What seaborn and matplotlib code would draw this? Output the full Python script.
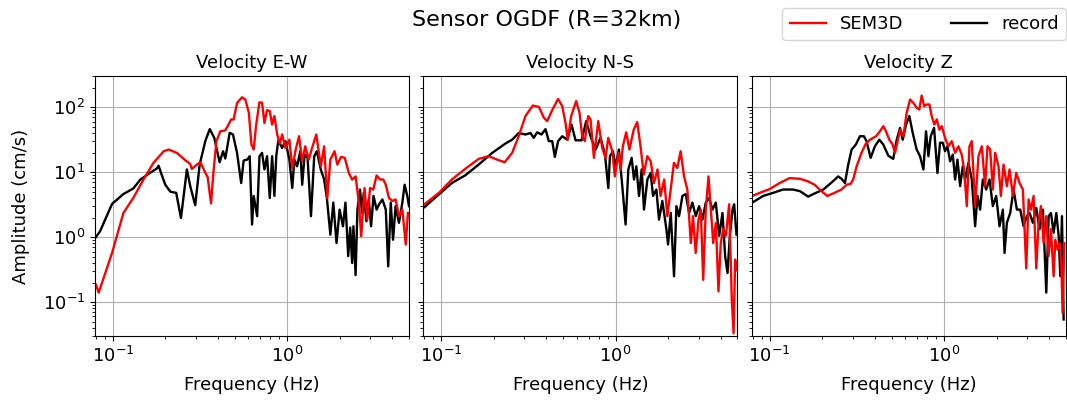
import pandas as pd
import matplotlib
matplotlib.use("Agg")
import matplotlib.pyplot as plt
import seaborn as sns

# -------------------------
# DATA (frequency in Hz, amplitude in cm/s)
# -------------------------
ew_sem_f = [0.080, 0.083, 0.099, 0.115, 0.131, 0.150, 0.171, 0.196, 0.209, 0.233,
            0.261, 0.278, 0.284, 0.304, 0.318, 0.340, 0.350, 0.366, 0.379, 0.393,
            0.414, 0.442, 0.456, 0.477, 0.493, 0.516, 0.551, 0.576, 0.603, 0.624,
            0.643, 0.663, 0.693, 0.718, 0.741, 0.767, 0.795, 0.820, 0.845, 0.877,
            0.908, 0.936, 0.978, 1.03, 1.07, 1.12, 1.17, 1.22, 1.27, 1.33,
            1.39, 1.47, 1.56, 1.63, 1.70, 1.77, 1.87, 1.94, 2.04, 2.14,
            2.26, 2.36, 2.47, 2.58, 2.66, 2.78, 2.88, 2.99, 3.12, 3.26,
            3.41, 3.56, 3.68, 3.84, 4.01, 4.19, 4.38, 4.58, 4.79, 4.93]
ew_sem_a = [0.185, 0.14, 0.57, 2.35, 4.0, 7.7, 13.9, 21, 22.3, 19.8,
            15.2, 13.4, 11.2, 13.1, 14.2, 9.7, 8.4, 3.3, 11, 30,
            42.6, 44, 51, 64.6, 64.6, 116, 142, 131, 82, 26.6,
            22.3, 51, 119, 117, 57, 90, 87, 54, 73, 38,
            27.5, 38, 23.6, 31.6, 11.6, 22.3, 35.7, 14.7, 25, 15.6,
            23.6, 38, 12.3, 25, 4.0, 15.6, 21, 13.1, 17.2, 16.6,
            9.7, 7.7, 8.6, 3.4, 1.03, 5.7, 1.86, 5.7, 5.4, 8.9,
            7.7, 7.7, 6.4, 4.0, 3.6, 3.8, 2.1, 2.65, 0.77, 2.35]

ew_rec_f = [0.080, 0.0845, 0.099, 0.115, 0.131, 0.144, 0.160, 0.179, 0.183, 0.191,
            0.200, 0.214, 0.231, 0.246, 0.266, 0.278, 0.297, 0.315, 0.340, 0.360,
            0.382, 0.410, 0.429, 0.442, 0.468, 0.489, 0.516, 0.545, 0.563, 0.590,
            0.610, 0.629, 0.643, 0.673, 0.694, 0.718, 0.741, 0.767, 0.795, 0.820,
            0.845, 0.866, 0.890, 0.936, 0.978, 1.03, 1.07, 1.10, 1.14, 1.19,
            1.22, 1.26, 1.31, 1.37, 1.43, 1.48, 1.56, 1.63, 1.69, 1.77,
            1.84, 1.92, 2.00, 2.09, 2.16, 2.24, 2.30, 2.36, 2.40, 2.47,
            2.53, 2.62, 2.69, 2.75, 2.85, 2.94, 3.03, 3.13, 3.26, 3.37,
            3.52, 3.68, 3.80, 3.93, 4.05, 4.19, 4.38, 4.58, 4.72, 4.89,
            5.0]
ew_rec_a = [1.0, 1.23, 3.24, 4.6, 5.6, 7.7, 9.4, 11.4, 12.6, 9.0,
            6.4, 5.0, 4.8, 1.97, 11, 6.1, 3.1, 13.1, 30.6, 46,
            33.7, 14.2, 21, 16.2, 40.3, 38, 19.8, 6.8, 15.1, 15.6,
            17.6, 1.56, 4.3, 2.1, 17.6, 19.8, 11, 17.6, 4.0, 17.6,
            4.3, 17.6, 30.9, 23.6, 30, 15.6, 5.7, 15.6, 12.3, 21,
            6.4, 18.6, 16.6, 2.1, 17.6, 21, 11, 7.7, 4.0, 1.09,
            3.4, 0.81, 2.65, 1.47, 3.4, 0.51, 1.4, 0.40, 1.47, 0.26,
            2.65, 5.4, 2.35, 4.8, 1.75, 3.8, 1.47, 4.3, 2.65, 3.2,
            3.8, 2.65, 0.355, 3.4, 0.91, 3.0, 1.66, 3.4, 6.4, 4.3,
            3.0]

ns_sem_f = [0.080, 0.097, 0.115, 0.137, 0.164, 0.187, 0.209, 0.231, 0.255, 0.278,
            0.304, 0.335, 0.363, 0.388, 0.405, 0.436, 0.468, 0.494, 0.516, 0.532,
            0.556, 0.594, 0.621, 0.643, 0.666, 0.696, 0.718, 0.751, 0.795, 0.838,
            0.876, 0.907, 0.957, 0.99, 1.04, 1.07, 1.10, 1.15, 1.20, 1.27,
            1.33, 1.39, 1.45, 1.52, 1.59, 1.66, 1.74, 1.81, 1.90, 1.98,
            2.07, 2.16, 2.26, 2.36, 2.47, 2.58, 2.70, 2.78, 2.88, 2.99,
            3.08, 3.18, 3.29, 3.41, 3.52, 3.63, 3.76, 3.89, 4.01, 4.14,
            4.29, 4.48, 4.64, 4.75, 4.85, 4.94]
ns_sem_a = [3.2, 4.8, 7.7, 11.2, 16, 17.6, 15.6, 14.2, 19.8, 35.7,
            73, 106, 101, 68.5, 61, 94, 134, 104, 57, 31.6,
            73, 124, 82, 35.7, 30, 73, 65, 16.6, 61, 23.6,
            16.6, 33.7, 21, 8.6, 19.8, 11, 25, 41, 22.3, 45,
            59, 25, 9.2, 17.6, 14.7, 6.8, 11, 4.3, 7.7, 2.1,
            5.4, 13.9, 11.6, 21, 8.6, 5.4, 0.81, 2.1, 0.57, 1.86,
            2.65, 0.22, 2.65, 8.6, 2.65, 0.81, 1.66, 0.146, 0.81, 1.33,
            1.05, 3.2, 0.108, 0.033, 0.45, 0.31]

ns_rec_f = [0.0802, 0.0965, 0.115, 0.137, 0.164, 0.196, 0.233, 0.255, 0.278, 0.304,
            0.325, 0.339, 0.355, 0.376, 0.396, 0.414, 0.433, 0.448, 0.468, 0.494,
            0.528, 0.559, 0.589, 0.638, 0.678, 0.718, 0.768, 0.820, 0.869, 0.908,
            0.928, 0.965, 1.0, 1.045, 1.092, 1.141, 1.183, 1.236, 1.275, 1.315,
            1.362, 1.411, 1.455, 1.521, 1.589, 1.639, 1.713, 1.774, 1.854, 1.955,
            1.999, 2.071, 2.164, 2.232, 2.312, 2.416, 2.525, 2.639, 2.758, 2.883,
            3.013, 3.148, 3.290, 3.439, 3.594, 3.756, 3.926, 4.102, 4.250, 4.384,
            4.522, 4.684, 4.786, 4.937]
ns_rec_a = [2.9, 4.5, 6.8, 8.9, 13.1, 19.8, 27.5, 31.6, 40, 38,
            40, 33.7, 41, 38, 46, 30, 30, 17.2, 30, 35.7,
            31.6, 54, 30.9, 30.9, 61, 35.7, 22.3, 33.7, 18.6, 5.7,
            17.6, 21, 12.3, 22.3, 6.1, 1.56, 11, 16.6, 7.7, 12.3,
            4.3, 11, 2.65, 7.7, 9.7, 4.3, 5.4, 1.86, 3.6, 1.33,
            0.77, 2.35, 0.25, 3.0, 2.1, 4.3, 4.6, 2.35, 3.4, 2.1,
            3.0, 1.86, 3.4, 4.0, 2.65, 3.4, 1.05, 2.35, 0.51, 0.28,
            1.05, 2.65, 3.2, 1.09]

z_sem_f = [0.0795, 0.0876, 0.100, 0.114, 0.130, 0.149, 0.166, 0.181, 0.198, 0.214,
           0.231, 0.258, 0.276, 0.291, 0.301, 0.315, 0.336, 0.356, 0.376, 0.407,
           0.429, 0.448, 0.464, 0.485, 0.507, 0.523, 0.539, 0.559, 0.584, 0.610,
           0.638, 0.666, 0.696, 0.721, 0.744, 0.768, 0.795, 0.824, 0.849, 0.880,
           0.908, 0.940, 0.970, 1.013, 1.059, 1.107, 1.157, 1.209, 1.263, 1.303,
           1.350, 1.398, 1.442, 1.507, 1.575, 1.646, 1.720, 1.774, 1.838, 1.904,
           1.964, 2.052, 2.117, 2.193, 2.292, 2.374, 2.481, 2.593, 2.710, 2.832,
           2.960, 3.053, 3.148, 3.262, 3.379, 3.485, 3.594, 3.723, 3.857, 3.978,
           4.102, 4.250, 4.345, 4.481, 4.601, 4.702, 4.786, 4.894]
z_sem_a = [4.3, 4.8, 5.5, 6.8, 8.1, 7.9, 7.2, 6.4, 5.1, 4.3,
           4.7, 5.4, 6.4, 6.6, 7.7, 12.3, 19.8, 27.5, 31.6, 35.7,
           42.6, 51, 42.6, 31.6, 26.6, 19.8, 28.4, 45, 35.7, 82,
           131, 117, 98, 92, 151, 104, 110, 110, 73, 54,
           65, 45, 51, 33.7, 25, 30, 19.8, 25, 18.6, 11,
           3.0, 25, 30, 3.0, 17.6, 25, 6.1, 25, 22.3, 5.4,
           19.8, 12.3, 4.3, 13.1, 6.1, 11, 4.3, 9.7, 6.8, 5.4,
           0.33, 3.8, 2.65, 4.3, 0.33, 1.66, 3.0, 0.81, 2.1, 0.51,
           1.33, 0.25, 0.91, 0.64, 0.81, 0.41, 0.068, 0.81]

z_rec_f = [0.0795, 0.0916, 0.1045, 0.119, 0.136, 0.149, 0.166, 0.181, 0.203, 0.226,
           0.247, 0.258, 0.270, 0.282, 0.295, 0.312, 0.329, 0.347, 0.359, 0.379,
           0.401, 0.425, 0.448, 0.479, 0.511, 0.535, 0.559, 0.579, 0.605, 0.632,
           0.661, 0.696, 0.728, 0.761, 0.788, 0.813, 0.838, 0.876, 0.916, 0.948,
           0.982, 1.013, 1.045, 1.083, 1.122, 1.157, 1.193, 1.236, 1.280, 1.320,
           1.380, 1.442, 1.507, 1.555, 1.610, 1.668, 1.744, 1.822, 1.904, 1.990,
           2.080, 2.174, 2.222, 2.292, 2.395, 2.503, 2.616, 2.734, 2.857, 2.986,
           3.093, 3.233, 3.379, 3.531, 3.690, 3.857, 3.978, 4.102, 4.250, 4.403,
           4.541, 4.642, 4.745, 4.851]
z_rec_a = [3.4, 4.3, 4.8, 5.4, 5.4, 5.1, 4.2, 4.7, 5.4, 6.9,
           8.6, 7.9, 6.8, 13.1, 22.3, 26.6, 35.7, 35.7, 30, 16.6,
           25, 31.6, 26.6, 17.9, 16, 31.6, 48, 31.6, 54, 73,
           40, 22.3, 17.6, 11, 42.6, 17.6, 35.7, 48, 9.7, 28.4,
           28.4, 21, 25, 14.7, 18.6, 7.7, 15.6, 6.1, 12.3, 7.7,
           13.9, 7.7, 1.47, 4.3, 2.65, 7.7, 5.4, 7.7, 3.0, 4.3,
           1.47, 2.65, 0.57, 1.66, 2.35, 5.4, 2.65, 2.65, 1.47, 2.1,
           2.35, 1.66, 2.8, 1.33, 2.65, 0.14, 2.1, 2.35, 1.17, 2.35,
           1.05, 0.25, 2.1, 0.054]

components = ["Velocity E-W", "Velocity N-S", "Velocity Z"]
sem_data = [(ew_sem_f, ew_sem_a), (ns_sem_f, ns_sem_a), (z_sem_f, z_sem_a)]
rec_data = [(ew_rec_f, ew_rec_a), (ns_rec_f, ns_rec_a), (z_rec_f, z_rec_a)]

# -------------------------
# PLOT
# -------------------------
plt.rcParams["font.size"] = 13
plt.rcParams["axes.titlesize"] = 13
plt.rcParams["legend.fontsize"] = 13

fig, axes = plt.subplots(1, 3, figsize=(10.67, 4.01), dpi=100, sharey=True)
fig.subplots_adjust(left=0.089, right=0.999, bottom=0.162, top=0.81, wspace=0.046)

for ax, title, (rf, ra), (sf, sa) in zip(axes, components, rec_data, sem_data):
    rec_df = pd.DataFrame({"freq": rf, "amp": ra})
    sem_df = pd.DataFrame({"freq": sf, "amp": sa})
    sns.lineplot(data=rec_df, x="freq", y="amp", ax=ax, color="black",
                 lw=1.7, estimator=None, legend=False)
    sns.lineplot(data=sem_df, x="freq", y="amp", ax=ax, color="red",
                 lw=1.7, estimator=None, legend=False)
    ax.set_xscale("log")
    ax.set_yscale("log")
    ax.set_xlim(0.079, 5.0)
    ax.set_ylim(0.03, 300)
    ax.grid(True, which="major", color="#b0b0b0", lw=0.8)
    ax.set_title(title)
    ax.set_xlabel("Frequency (Hz)", labelpad=7)
    ax.set_ylabel("")

axes[0].set_ylabel("Amplitude (cm/s)", labelpad=9)

lines = axes[0].get_lines()
fig.legend([lines[1], lines[0]], ["SEM3D", "record"], loc="upper right",
           bbox_to_anchor=(0.999, 0.98), ncol=2, borderaxespad=0,
           columnspacing=2.6)
fig.suptitle("Sensor OGDF (R=32km)", fontsize=16, x=0.512, y=0.975)

plt.savefig("out.png", dpi=100)
